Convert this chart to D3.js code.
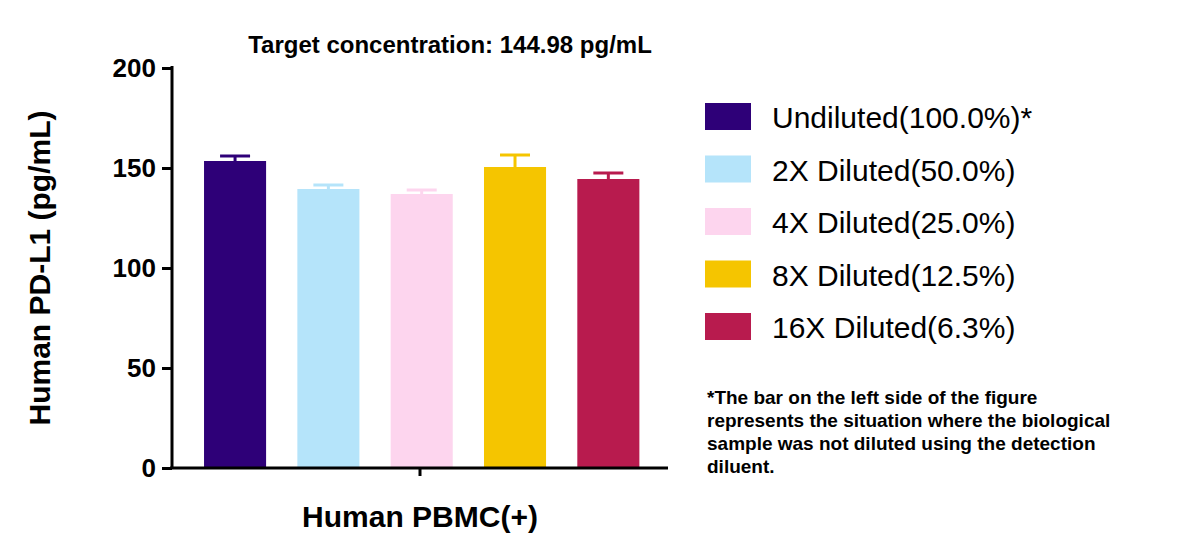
<!DOCTYPE html>
<html><head><meta charset="utf-8">
<script src="https://cdn.jsdelivr.net/npm/d3@7"></script>
<style>body{margin:0;background:#fff}text{font-family:Arial,"Liberation Sans",sans-serif}</style>
</head><body>
<svg id="c" width="1200" height="557"></svg>
<script>
var groups = ["Undiluted(100.0%)*","2X Diluted(50.0%)","4X Diluted(25.0%)","8X Diluted(12.5%)","16X Diluted(6.3%)"];
var means  = [153.5, 139.5, 137, 150.5, 144.5];
var errs   = [2.5, 2, 2, 6, 3];
var colors = ["#2e0078","#b5e4fa","#fdd5ee","#f5c500","#b81b4e"];
var yTicks = [0, 50, 100, 150, 200];

var svg = d3.select("#c");
var y = d3.scaleLinear().domain([0,200]).range([468,68]);
var x = d3.scaleBand().domain(groups).range([180.7,662.7]).paddingInner(0.335).paddingOuter(0.25);

svg.selectAll("rect.bar").data(groups).enter().append("rect")
  .attr("x", function(d){ return x(d); })
  .attr("width", x.bandwidth())
  .attr("y", function(d,i){ return y(means[i]); })
  .attr("height", function(d,i){ return y(0) - y(means[i]); })
  .attr("fill", function(d,i){ return colors[i]; });

// error bars (upper only)
groups.forEach(function(d,i){
  var cx = x(d) + x.bandwidth()/2, top = y(means[i]+errs[i]);
  svg.append("line").attr("x1",cx).attr("x2",cx).attr("y1",y(means[i])).attr("y2",top)
    .attr("stroke",colors[i]).attr("stroke-width",3);
  svg.append("line").attr("x1",cx-15).attr("x2",cx+15).attr("y1",top).attr("y2",top)
    .attr("stroke",colors[i]).attr("stroke-width",3);
});

var ya = svg.append("g").attr("transform","translate(172,0)")
  .call(d3.axisLeft(y).tickValues(yTicks).tickSize(10).tickPadding(6));
ya.selectAll("text").attr("font-size",26).attr("font-weight","bold");
ya.selectAll("line,path").attr("stroke","#000").attr("stroke-width",3);
ya.select("path").attr("d","M0,66V468");

svg.append("line").attr("x1",170).attr("x2",668).attr("y1",468).attr("y2",468)
  .attr("stroke","#000").attr("stroke-width",3);
svg.append("line").attr("x1",420).attr("x2",420).attr("y1",468).attr("y2",476)
  .attr("stroke","#000").attr("stroke-width",3);

svg.append("text").attr("x",420).attr("y",527).attr("text-anchor","middle")
  .attr("font-size",30).attr("font-weight","bold").text("Human PBMC(+)");
svg.append("text").attr("transform","translate(50,268) rotate(-90)").attr("text-anchor","middle")
  .attr("font-size",30).attr("font-weight","bold").text("Human PD-L1 (pg/mL)");
svg.append("text").attr("x",450).attr("y",53).attr("text-anchor","middle")
  .attr("font-size",24).attr("font-weight","bold").text("Target concentration: 144.98 pg/mL");

var lg = svg.selectAll("g.lg").data(groups).enter().append("g")
  .attr("transform", function(d,i){ return "translate(705," + (103 + i*52.5) + ")"; });
lg.append("rect").attr("width",46).attr("height",27).attr("fill", function(d,i){ return colors[i]; });
lg.append("text").attr("x",67).attr("y",25).attr("font-size",30).text(function(d){ return d; });

var note = ["*The bar on the left side of the figure","represents the situation where the biological","sample was not diluted using the detection","diluent."];
svg.selectAll("text.note").data(note).enter().append("text")
  .attr("x",707).attr("y",function(d,i){ return 404 + i*23; })
  .attr("font-size",19).attr("font-weight","bold").text(function(d){ return d; });
</script>
</body></html>
